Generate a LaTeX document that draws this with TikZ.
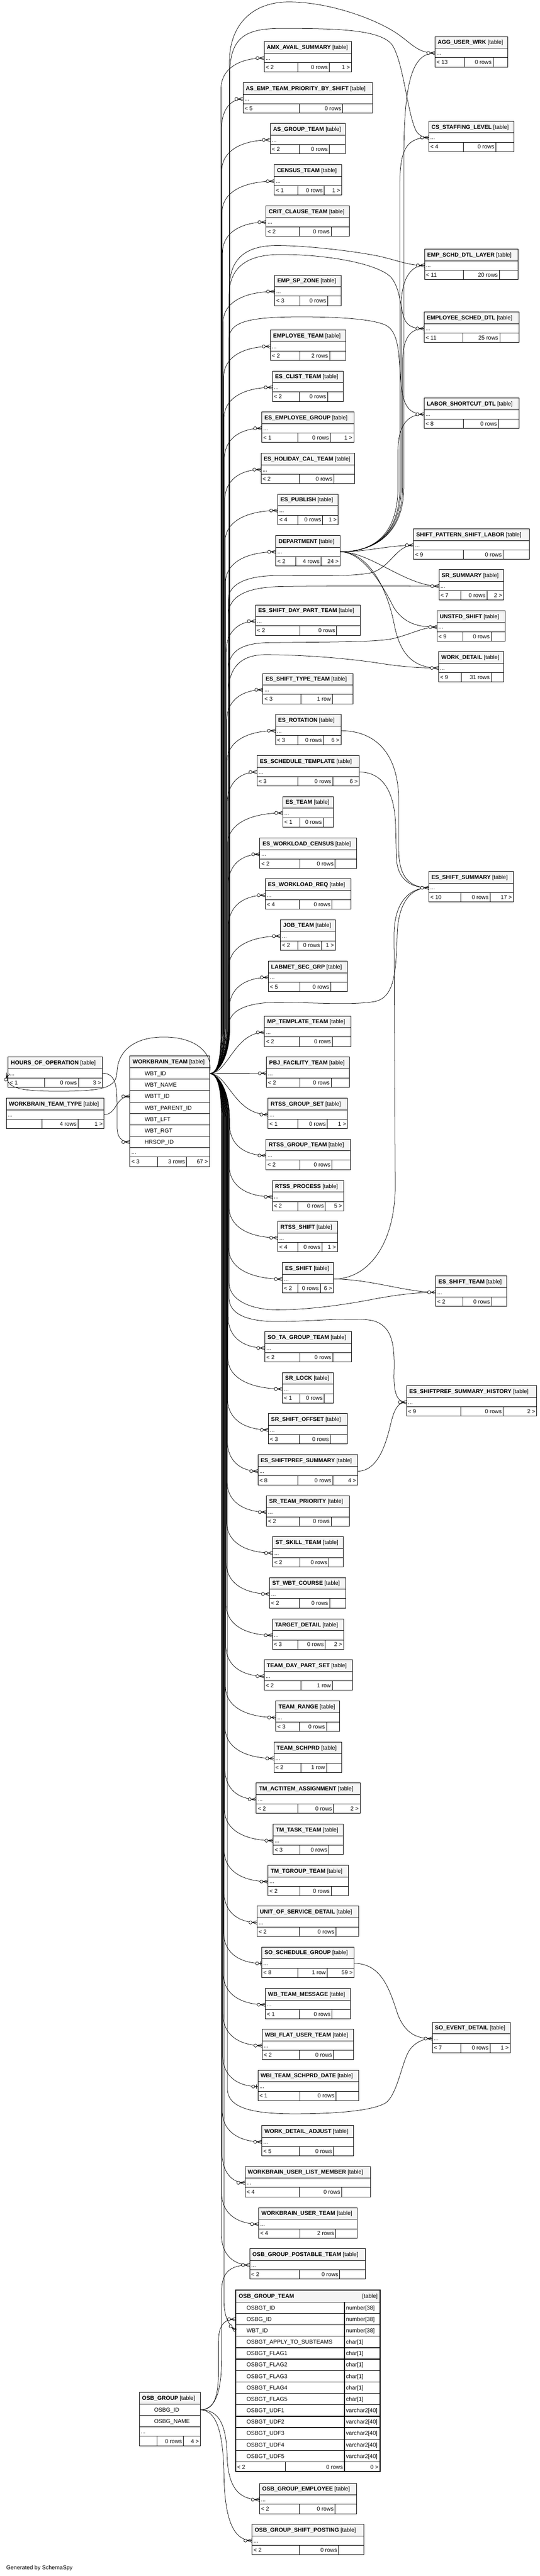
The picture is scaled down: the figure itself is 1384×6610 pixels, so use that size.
\documentclass[tikz,border=0pt]{standalone}
\usepackage{fontspec}
\setmainfont{Liberation Sans}
\usetikzlibrary{calc}
\tikzset{
  tline/.style={draw=black, line width=1.3pt},
  tbox/.style={draw=black, line width=1.3pt, inner sep=0pt, outer sep=0pt, rectangle},
  hdrfill/.style={fill=black!4},
  edge/.style={draw=black, line width=1pt},
  txt/.style={inner sep=0pt, outer sep=0pt, font=\fontsize{14.5}{17}\selectfont},
}
\newcommand\tbfoot[9]{%
  \node[txt, anchor=base west] (#1-f1) at (#2+4,#4+71) {#7};
  \node[txt, anchor=base east] (#1-f2) at (#6-4,#4+71) {#8};
  \node[txt, anchor=base east] (#1-f3) at (#3-4,#4+71) {#9};
}
% #1 id #2 name #3 left #4 right #5 top #6 d1 #7 d2 #8 {f1}{f2}{f3}
\newcommand\tb[8]{%
  \fill[hdrfill] (#3,#5) rectangle (#4,#5+30);
  \node[tbox, minimum width={(#4-#3)*1pt}, minimum height=78pt, anchor=north west] (#1) at (#3,#5) {};
  \draw[tline] (#3,#5+30) -- (#4,#5+30) (#3,#5+54) -- (#4,#5+54) (#6,#5+54) -- (#6,#5+78) (#7,#5+54) -- (#7,#5+78);
  \node[txt, anchor=base west] (#1-h) at (#3+7,#5+19.5) {\textbf{\detokenize{#2}}\hspace{4pt}[table]};
  \node[txt, anchor=base west] (#1-d) at (#3+4,#5+47) {...};
  \tbfoot{#1}{#3}{#4}{#5}{#6}{#7}#8
  \coordinate (#1-in) at (#3,#5+42);
  \coordinate (#1-out) at (#4,#5+42);
}
\newcommand\crow[2][0]{%
  \begin{scope}[shift={(#2)}, rotate=#1]
    \draw[edge] (-13,0) -- (0,0) (-13,0) -- (0,4.5) (-13,0) -- (0,-4.5);
    \draw[edge, fill=white] (-17,0) circle[radius=4];
  \end{scope}}
\newcommand\teeodot[1]{%
  \begin{scope}[shift={(#1)}]
    \draw[edge] (-8,0) -- (0,0) (-4,-5.5) -- (-4,5.5);
    \draw[edge, fill=white] (-12,0) circle[radius=4];
  \end{scope}}
\newcommand\wup[2]{%
  \pgfmathsetmacro\trunkx{590-(2755-#2)/2650*24}%
  \draw[edge] (wbt-out) .. controls (560,2755) and (\trunkx,2710) .. (\trunkx,2640) -- (\trunkx,#2+80) .. controls (\trunkx,#2+25) and ($(\trunkx,#2)!0.45!(#1-in)$) .. (#1-in);}
\newcommand\wdn[2]{%
  \pgfmathsetmacro\trunkx{590-(#2-2755)/3250*24}%
  \draw[edge] (wbt-out) .. controls (560,2755) and (\trunkx,2800) .. (\trunkx,2870) -- (\trunkx,#2-80) .. controls (\trunkx,#2-25) and ($(\trunkx,#2)!0.45!(#1-in)$) .. (#1-in);}
\newcommand\wbtrow[2]{\node[txt, anchor=base west] (wbt-c#1) at (371,{2740+29.3*(#1-0.5)+5}) {\detokenize{#2}};}
\newcommand\ogtrow[3]{%
  \node[txt, anchor=base west] (ogt-c#1) at (632,{5907+29.3*(#1-0.5)+5}) {\detokenize{#2}};
  \node[txt, anchor=base west] (ogt-t#1) at (887,{5907+29.3*(#1-0.5)+5}) {#3};}
\begin{document}
\begin{tikzpicture}[x=1pt,y=-1pt]
\fill[white] (0,0) rectangle (1384,6610);
\useasboundingbox (0,0) rectangle (1384,6610);

% ---------------- main column tables
\tb{amx}{AMX_AVAIL_SUMMARY}{677}{901}{107}{763}{844}{{< 2}{0 rows}{1 >}}
\tb{asemp}{AS_EMP_TEAM_PRIORITY_BY_SHIFT}{623}{955}{212}{767}{879}{{< 5}{0 rows}{}}
\tb{asgrp}{AS_GROUP_TEAM}{693}{885}{317}{767}{844}{{< 2}{0 rows}{}}
\tb{census}{CENSUS_TEAM}{703}{876}{423}{763}{831}{{< 1}{0 rows}{1 >}}
\tb{crit}{CRIT_CLAUSE_TEAM}{682}{896}{528}{767}{849}{{< 2}{0 rows}{}}
\tb{spzone}{EMP_SP_ZONE}{704}{875}{706}{769}{840}{{< 3}{0 rows}{}}
\tb{empteam}{EMPLOYEE_TEAM}{693}{886}{847}{769}{845}{{< 2}{2 rows}{}}
\tb{clist}{ES_CLIST_TEAM}{698}{880}{952}{767}{840}{{< 2}{0 rows}{}}
\tb{esempgrp}{ES_EMPLOYEE_GROUP}{671}{907}{1057}{763}{847}{{< 1}{0 rows}{1 >}}
\tb{holiday}{ES_HOLIDAY_CAL_TEAM}{669}{909}{1163}{767}{856}{{< 2}{0 rows}{}}
\tb{publish}{ES_PUBLISH}{712}{867}{1268}{763}{827}{{< 4}{0 rows}{1 >}}
\tb{dept}{DEPARTMENT}{707}{872}{1374}{758}{823}{{< 2}{4 rows}{24 >}}
\tb{daypart}{ES_SHIFT_DAY_PART_TEAM}{655}{924}{1552}{769}{863}{{< 2}{0 rows}{}}
\tb{shtype}{ES_SHIFT_TYPE_TEAM}{674}{905}{1728}{772}{852}{{< 3}{1 row}{}}
\tb{esrot}{ES_ROTATION}{706}{874}{1833}{763}{829}{{< 3}{0 rows}{6 >}}
\tb{estpl}{ES_SCHEDULE_TEMPLATE}{659}{921}{1939}{763}{853}{{< 3}{0 rows}{6 >}}
\tb{esteam}{ES_TEAM}{725}{854}{2044}{769}{829}{{< 1}{0 rows}{}}
\tb{wlcensus}{ES_WORKLOAD_CENSUS}{666}{914}{2150}{769}{859}{{< 2}{0 rows}{}}
\tb{wlreq}{ES_WORKLOAD_REQ}{680}{899}{2255}{767}{851}{{< 4}{0 rows}{}}
\tb{jobteam}{JOB_TEAM}{719}{860}{2360}{763}{824}{{< 2}{0 rows}{1 >}}
\tb{labmet}{LABMET_SEC_GRP}{688}{891}{2466}{769}{848}{{< 5}{0 rows}{}}
\tb{mptpl}{MP_TEMPLATE_TEAM}{678}{900}{2607}{767}{852}{{< 2}{0 rows}{}}
\tb{pbj}{PBJ_FACILITY_TEAM}{683}{896}{2712}{769}{849}{{< 2}{0 rows}{}}
\tb{rgset}{RTSS_GROUP_SET}{687}{891}{2818}{763}{839}{{< 1}{0 rows}{1 >}}
\tb{rgteam}{RTSS_GROUP_TEAM}{682}{898}{2923}{769}{851}{{< 2}{0 rows}{}}
\tb{rproc}{RTSS_PROCESS}{698}{881}{3029}{763}{834}{{< 2}{0 rows}{5 >}}
\tb{rshift}{RTSS_SHIFT}{712}{865}{3134}{763}{825}{{< 4}{0 rows}{1 >}}
\tb{esshift}{ES_SHIFT}{724}{855}{3240}{763}{821}{{< 2}{0 rows}{6 >}}
\tb{sota}{SO_TA_GROUP_TEAM}{679}{901}{3417}{769}{853}{{< 2}{0 rows}{}}
\tb{srlock}{SR_LOCK}{724}{855}{3522}{769}{831}{{< 1}{0 rows}{}}
\tb{sroff}{SR_SHIFT_OFFSET}{688}{890}{3627}{767}{847}{{< 3}{0 rows}{}}
\tb{espref}{ES_SHIFTPREF_SUMMARY}{661}{917}{3733}{763}{853}{{< 8}{0 rows}{4 >}}
\tb{srprio}{SR_TEAM_PRIORITY}{683}{895}{3838}{767}{849}{{< 2}{0 rows}{}}
\tb{stskill}{ST_SKILL_TEAM}{699}{880}{3943}{769}{843}{{< 2}{0 rows}{}}
\tb{stwbt}{ST_WBT_COURSE}{691}{886}{4048}{767}{845}{{< 2}{0 rows}{}}
\tb{target}{TARGET_DETAIL}{698}{881}{4154}{763}{834}{{< 3}{0 rows}{2 >}}
\tb{tdps}{TEAM_DAY_PART_SET}{677}{903}{4259}{772}{852}{{< 2}{1 row}{}}
\tb{trange}{TEAM_RANGE}{707}{870}{4365}{767}{837}{{< 3}{0 rows}{}}
\tb{tschprd}{TEAM_SCHPRD}{702}{876}{4470}{772}{837}{{< 2}{1 row}{}}
\tb{tmact}{TM_ACTITEM_ASSIGNMENT}{657}{923}{4575}{763}{855}{{< 2}{0 rows}{2 >}}
\tb{tmtask}{TM_TASK_TEAM}{700}{880}{4681}{769}{843}{{< 3}{0 rows}{}}
\tb{tmtgrp}{TM_TGROUP_TEAM}{687}{893}{4786}{769}{849}{{< 2}{0 rows}{}}
\tb{unitsvc}{UNIT_OF_SERVICE_DETAIL}{659}{920}{4891}{767}{861}{{< 2}{0 rows}{}}
\tb{ssg}{SO_SCHEDULE_GROUP}{671}{908}{4996}{763}{839}{{< 8}{1 row}{59 >}}
\tb{wbmsg}{WB_TEAM_MESSAGE}{680}{898}{5102}{767}{851}{{< 1}{0 rows}{}}
\tb{wbiflat}{WBI_FLAT_USER_TEAM}{672}{906}{5207}{767}{855}{{< 2}{0 rows}{}}
\tb{wbisch}{WBI_TEAM_SCHPRD_DATE}{661}{919}{5312}{769}{861}{{< 1}{0 rows}{}}
\tb{wdadj}{WORK_DETAIL_ADJUST}{671}{906}{5454}{767}{855}{{< 5}{0 rows}{}}
\tb{wbulm}{WORKBRAIN_USER_LIST_MEMBER}{628}{950}{5559}{767}{876}{{< 4}{0 rows}{}}
\tb{wbut}{WORKBRAIN_USER_TEAM}{663}{915}{5665}{769}{860}{{< 4}{2 rows}{}}
\tb{ogpt}{OSB_GROUP_POSTABLE_TEAM}{640}{937}{5770}{767}{871}{{< 2}{0 rows}{}}
\tb{oge}{OSB_GROUP_EMPLOYEE}{665}{914}{6372}{767}{859}{{< 2}{0 rows}{}}
\tb{ogsp}{OSB_GROUP_SHIFT_POSTING}{646}{932}{6477}{767}{868}{{< 2}{0 rows}{}}

% ---------------- right column tables
\tb{agg}{AGG_USER_WRK}{1115}{1301}{94}{1191}{1264}{{< 13}{0 rows}{}}
\tb{cs}{CS_STAFFING_LEVEL}{1099}{1317}{311}{1188}{1271}{{< 4}{0 rows}{}}
\tb{esdl}{EMP_SCHD_DTL_LAYER}{1088}{1328}{639}{1188}{1280}{{< 11}{20 rows}{}}
\tb{esd}{EMPLOYEE_SCHED_DTL}{1087}{1330}{801}{1187}{1281}{{< 11}{25 rows}{}}
\tb{lsd}{LABOR_SHORTCUT_DTL}{1087}{1331}{1021}{1188}{1278}{{< 8}{0 rows}{}}
\tb{spsl}{SHIFT_PATTERN_SHIFT_LABOR}{1060}{1357}{1357}{1188}{1290}{{< 9}{0 rows}{}}
\tb{srs}{SR_SUMMARY}{1125}{1291}{1462}{1181}{1248}{{< 7}{0 rows}{2 >}}
\tb{uns}{UNSTFD_SHIFT}{1120}{1295}{1567}{1187}{1259}{{< 9}{0 rows}{}}
\tb{wd}{WORK_DETAIL}{1124}{1291}{1672}{1182}{1259}{{< 9}{31 rows}{}}
\tb{ess}{ES_SHIFT_SUMMARY}{1099}{1316}{2236}{1181}{1256}{{< 10}{0 rows}{17 >}}
\tb{est}{ES_SHIFT_TEAM}{1117}{1299}{3274}{1187}{1260}{{< 2}{0 rows}{}}
\tb{essh}{ES_SHIFTPREF_SUMMARY_HISTORY}{1042}{1376}{3556}{1181}{1290}{{< 9}{0 rows}{2 >}}
\tb{soed}{SO_EVENT_DETAIL}{1108}{1308}{5189}{1181}{1256}{{< 7}{0 rows}{1 >}}

% ---------------- left tables
\tb{hoo}{HOURS_OF_OPERATION}{21}{263}{2712}{115}{201}{{< 1}{0 rows}{3 >}}
\tb{wbtt}{WORKBRAIN_TEAM_TYPE}{16}{267}{2818}{108}{200}{{}{4 rows}{1 >}}

% WORKBRAIN_TEAM
\fill[hdrfill] (333,2710) rectangle (537,2740);
\node[tbox, minimum width=204pt, minimum height=283pt, anchor=north west] (wbt) at (333,2710) {};
\draw[tline] (333,2740) -- (537,2740);
\foreach \i in {1,...,7} {\draw[tline] (333,{2740+29.3*\i}) -- (537,{2740+29.3*\i});}
\draw[tline] (333,2969) -- (537,2969) (404,2969) -- (404,2993) (478,2969) -- (478,2993);
\node[txt, anchor=base west] (wbt-h) at (340,2729.5) {\textbf{WORKBRAIN\_TEAM}\hspace{4pt}[table]};
\wbtrow{1}{WBT_ID}
\wbtrow{2}{WBT_NAME}
\wbtrow{3}{WBTT_ID}
\wbtrow{4}{WBT_PARENT_ID}
\wbtrow{5}{WBT_LFT}
\wbtrow{6}{WBT_RGT}
\wbtrow{7}{HRSOP_ID}
\node[txt, anchor=base west] (wbt-d) at (337,2962) {...};
\node[txt, anchor=base west] (wbt-f1) at (337,2986) {< 3};
\node[txt, anchor=base east] (wbt-f2) at (474,2986) {3 rows};
\node[txt, anchor=base east] (wbt-f3) at (533,2986) {67 >};
\coordinate (wbt-out) at (537,2754.6);
\coordinate (wbt-wbtt) at (333,2813.3);
\coordinate (wbt-hrsop) at (333,2930.4);

% OSB_GROUP
\fill[hdrfill] (357,6139) rectangle (514,6169);
\node[tbox, minimum width=157pt, minimum height=137pt, anchor=north west] (og) at (357,6139) {};
\draw[tline] (357,6169) -- (514,6169) (357,6198.3) -- (514,6198.3) (357,6227.6) -- (514,6227.6) (357,6251.6) -- (514,6251.6) (403,6251.6) -- (403,6276) (470,6251.6) -- (470,6276);
\node[txt, anchor=base west] (og-h) at (364,6158.5) {\textbf{OSB\_GROUP}\hspace{4pt}[table]};
\node[txt, anchor=base west] (og-c1) at (395,6188.6) {OSBG\_ID};
\node[txt, anchor=base west] (og-c2) at (395,6217.9) {OSBG\_NAME};
\node[txt, anchor=base west] (og-d) at (361,6244.6) {...};
\node[txt, anchor=base east] (og-f2) at (466,6269) {0 rows};
\node[txt, anchor=base east] (og-f3) at (510,6269) {4 >};
\coordinate (og-out) at (514,6183.6);

% OSB_GROUP_TEAM
\fill[hdrfill] (604,5876) rectangle (974,5907);
\node[tbox, line width=2.5pt, minimum width=370pt, minimum height=466pt, anchor=north west] (ogt) at (604,5876) {};
\draw[line width=2pt] (604,5907) -- (974,5907);
\foreach \i in {1,...,14} {\draw[line width=1.7pt] (604,{5907+29.3*\i}) -- (974,{5907+29.3*\i});}
\draw[line width=1.7pt] (883,5907) -- (883,6342) (732,6317.2) -- (732,6342);
\node[txt, anchor=base west] (ogt-h) at (612,5897) {\textbf{OSB\_GROUP\_TEAM}};
\node[txt, anchor=base east] (ogt-h2) at (968,5897) {[table]};
\ogtrow{1}{OSBGT_ID}{number[38]}
\ogtrow{2}{OSBG_ID}{number[38]}
\ogtrow{3}{WBT_ID}{number[38]}
\ogtrow{4}{OSBGT_APPLY_TO_SUBTEAMS}{char[1]}
\ogtrow{5}{OSBGT_FLAG1}{char[1]}
\ogtrow{6}{OSBGT_FLAG2}{char[1]}
\ogtrow{7}{OSBGT_FLAG3}{char[1]}
\ogtrow{8}{OSBGT_FLAG4}{char[1]}
\ogtrow{9}{OSBGT_FLAG5}{char[1]}
\ogtrow{10}{OSBGT_UDF1}{varchar2[40]}
\ogtrow{11}{OSBGT_UDF2}{varchar2[40]}
\ogtrow{12}{OSBGT_UDF3}{varchar2[40]}
\ogtrow{13}{OSBGT_UDF4}{varchar2[40]}
\ogtrow{14}{OSBGT_UDF5}{varchar2[40]}
\node[txt, anchor=base west] (ogt-f1) at (608,6335) {< 2};
\node[txt, anchor=base east] (ogt-f2) at (879,6335) {0 rows};
\node[txt, anchor=base east] (ogt-f3) at (970,6335) {0 >};
\coordinate (ogt-osbg) at (604,5951);
\coordinate (ogt-wbt) at (604,5980.3);

\node[txt, anchor=base west] (credit) at (16,6593) {Generated by SchemaSpy};

% ---------------- connectors from WORKBRAIN_TEAM.WBT_ID (trunk)
\wup{amx}{149} \wup{asemp}{254} \wup{asgrp}{359} \wup{census}{465} \wup{crit}{570}
\wup{spzone}{748} \wup{empteam}{889} \wup{clist}{994} \wup{esempgrp}{1099} \wup{holiday}{1205}
\wup{publish}{1310} \wup{dept}{1416} \wup{daypart}{1594} \wup{shtype}{1770} \wup{esrot}{1875}
\wup{estpl}{1981} \wup{esteam}{2086} \wup{wlcensus}{2192} \wup{wlreq}{2297} \wup{jobteam}{2402}
\wup{labmet}{2508}
\draw[edge] (wbt-out) .. controls (585,2755) and (600,2649) .. (mptpl-in);
\draw[edge] (wbt-out) -- (pbj-in);
\draw[edge] (wbt-out) .. controls (585,2755) and (600,2860) .. (rgset-in);
\wdn{rgteam}{2965} \wdn{rproc}{3071} \wdn{rshift}{3176} \wdn{esshift}{3282} \wdn{sota}{3459}
\wdn{srlock}{3564} \wdn{sroff}{3669} \wdn{espref}{3775} \wdn{srprio}{3880} \wdn{stskill}{3985}
\wdn{stwbt}{4090} \wdn{target}{4196} \wdn{tdps}{4301} \wdn{trange}{4407} \wdn{tschprd}{4512}
\wdn{tmact}{4617} \wdn{tmtask}{4723} \wdn{tmtgrp}{4828} \wdn{unitsvc}{4933} \wdn{ssg}{5038}
\wdn{wbmsg}{5144} \wdn{wbiflat}{5249} \wdn{wbisch}{5354} \wdn{wdadj}{5496} \wdn{wbulm}{5601}
\wdn{wbut}{5707} \wdn{ogpt}{5812}
\draw[edge] (wbt-out) .. controls (560,2755) and (574,2800) .. (574,2870) -- (574,5900) .. controls (574,5950) and (588,5966) .. (ogt-wbt);

% trunk to right column
\draw[edge] (wbt-out) .. controls (560,2755) and (588,2710) .. (588,2640) -- (588,160) .. controls (588,60) and (650,5) .. (740,5) .. controls (840,5) and (950,45) .. (1005,78) .. controls (1055,108) and (1065,136) .. (agg-in);
\draw[edge] (wbt-out) .. controls (560,2755) and (589,2710) .. (589,2640) -- (589,190) .. controls (589,95) and (630,73) .. (720,73) .. controls (860,73) and (975,75) .. (1005,115) .. controls (1035,160) and (1045,300) .. (1068,338) .. controls (1076,350) and (1088,353) .. (cs-in);
\draw[edge] (wbt-out) .. controls (560,2755) and (588,2710) .. (588,2640) -- (588,740) .. controls (588,655) and (640,630) .. (710,630) .. controls (800,630) and (950,650) .. (990,662) .. controls (1030,672) and (1050,681) .. (esdl-in);
\draw[edge] (wbt-out) .. controls (560,2755) and (587,2710) .. (587,2640) -- (587,760) .. controls (587,680) and (640,653) .. (720,653) .. controls (850,653) and (980,680) .. (1005,715) .. controls (1030,750) and (1025,800) .. (1040,825) .. controls (1050,840) and (1065,843) .. (esd-in);
\draw[edge] (wbt-out) .. controls (560,2755) and (587,2710) .. (587,2640) -- (587,870) .. controls (587,825) and (640,813) .. (772,813) .. controls (880,813) and (960,820) .. (990,835) .. controls (1020,852) and (1022,900) .. (1026,960) .. controls (1030,1030) and (1040,1063) .. (lsd-in);
\draw[edge] (wbt-out) .. controls (560,2755) and (585,2710) .. (585,2640) -- (585,1540) .. controls (585,1495) and (640,1477) .. (710,1477) .. controls (800,1477) and (900,1480) .. (950,1470) .. controls (1000,1458) and (1015,1399) .. (spsl-in);
\draw[edge] (wbt-out) .. controls (560,2755) and (585,2710) .. (585,2640) -- (585,1580) .. controls (585,1525) and (640,1507) .. (720,1505) .. controls (850,1503) and (1000,1504) .. (srs-in);
\draw[edge] (wbt-out) .. controls (560,2755) and (585,2710) .. (585,2640) -- (585,1720) .. controls (585,1670) and (620,1650) .. (690,1649) .. controls (850,1647) and (970,1648) .. (1010,1638) .. controls (1060,1625) and (1085,1609) .. (uns-in);
\draw[edge] (wbt-out) .. controls (560,2755) and (585,2710) .. (585,2640) -- (585,1780) .. controls (585,1710) and (620,1680) .. (680,1680) .. controls (780,1680) and (900,1690) .. (980,1703) .. controls (1040,1712) and (1080,1714) .. (wd-in);
\draw[edge] (wbt-out) .. controls (560,2755) and (587,2710) .. (587,2640) -- (587,2630) .. controls (587,2590) and (640,2572) .. (710,2572) .. controls (800,2572) and (900,2580) .. (960,2570) .. controls (1010,2560) and (1015,2500) .. (1018,2400) .. controls (1020,2320) and (1050,2278) .. (ess-in);
\draw[edge] (wbt-out) .. controls (560,2755) and (587,2800) .. (587,2870) -- (587,3290) .. controls (587,3340) and (650,3361) .. (710,3361) .. controls (800,3361) and (900,3345) .. (960,3333) .. controls (1020,3322) and (1070,3316) .. (est-in);
\draw[edge] (wbt-out) .. controls (560,2755) and (587,2800) .. (587,2870) -- (587,3330) .. controls (587,3375) and (640,3391) .. (710,3391) .. controls (800,3391) and (920,3378) .. (960,3390) .. controls (1005,3405) and (1012,3450) .. (1010,3520) .. controls (1008,3580) and (1020,3598) .. (essh-in);
\draw[edge] (wbt-out) .. controls (560,2755) and (583,2800) .. (583,2870) -- (583,5360) .. controls (583,5410) and (650,5424) .. (754,5424) .. controls (870,5424) and (960,5415) .. (990,5395) .. controls (1020,5370) and (1030,5290) .. (1050,5260) .. controls (1065,5240) and (1085,5231) .. (soed-in);

% DEPARTMENT children
\draw[edge] (dept-out) .. controls (960,1416) and (1035,1370) .. (1035,1250) -- (1035,420) .. controls (1035,230) and (1050,136) .. (agg-in);
\draw[edge] (dept-out) .. controls (960,1416) and (1025,1370) .. (1025,1250) -- (1025,470) .. controls (1025,380) and (1045,353) .. (cs-in);
\draw[edge] (dept-out) .. controls (960,1416) and (1028,1370) .. (1028,1250) -- (1028,790) .. controls (1028,720) and (1050,681) .. (esdl-in);
\draw[edge] (dept-out) .. controls (960,1416) and (1032,1370) .. (1032,1250) -- (1032,930) .. controls (1032,870) and (1050,843) .. (esd-in);
\draw[edge] (dept-out) .. controls (960,1416) and (1020,1370) .. (1020,1250) -- (1020,1160) .. controls (1020,1090) and (1045,1063) .. (lsd-in);
\draw[edge] (dept-out) .. controls (940,1416) and (990,1400) .. (spsl-in);
\draw[edge] (dept-out) .. controls (950,1416) and (1040,1504) .. (srs-in);
\draw[edge] (dept-out) .. controls (930,1416) and (980,1500) .. (1010,1560) .. controls (1040,1605) and (1080,1609) .. (uns-in);
\draw[edge] (dept-out) .. controls (940,1416) and (990,1500) .. (1010,1600) .. controls (1025,1680) and (1060,1714) .. (wd-in);

% ES_SHIFT_SUMMARY parents
\draw[edge] (esrot-out) .. controls (960,1875) and (1020,1930) .. (1022,2050) -- (1022,2180) .. controls (1022,2250) and (1050,2278) .. (ess-in);
\draw[edge] (estpl-out) .. controls (980,1981) and (1012,2030) .. (1014,2120) -- (1016,2200) .. controls (1018,2255) and (1050,2278) .. (ess-in);
\draw[edge] (esshift-out) .. controls (940,3282) and (1010,3200) .. (1013,3050) -- (1010,2400) .. controls (1010,2320) and (1045,2278) .. (ess-in);
\draw[edge] (esshift-out) .. controls (950,3282) and (1040,3316) .. (est-in);
\draw[edge] (espref-out) .. controls (970,3775) and (990,3700) .. (1000,3660) .. controls (1010,3615) and (1020,3598) .. (essh-in);
\draw[edge] (ssg-out) .. controls (980,5038) and (1000,5110) .. (1020,5170) .. controls (1040,5220) and (1070,5231) .. (soed-in);

% left side
\draw[edge] (wbtt-out) .. controls (300,2860) and (295,2813) .. (wbt-wbtt);
\draw[edge] (hoo-out) .. controls (298,2754) and (300,2790) .. (300,2840) -- (300,2890) .. controls (300,2920) and (312,2930) .. (wbt-hrsop);
\draw[edge] (wbt-out) .. controls (548,2700) and (500,2661) .. (420,2661) .. controls (340,2661) and (302,2700) .. (300,2750) .. controls (298,2790) and (270,2800) .. (150,2800) .. controls (50,2800) and (8,2792) .. (hoo-in);

% OSB_GROUP children
\draw[edge] (og-out) .. controls (550,6183) and (560,6150) .. (560,6080) -- (560,6010) .. controls (560,5965) and (575,5951) .. (ogt-osbg);
\draw[edge] (og-out) .. controls (555,6183) and (568,6130) .. (568,6050) -- (568,5880) .. controls (568,5830) and (590,5812) .. (ogpt-in);
\draw[edge] (og-out) .. controls (560,6183) and (580,6220) .. (582,6300) .. controls (584,6380) and (610,6414) .. (oge-in);
\draw[edge] (og-out) .. controls (555,6185) and (572,6240) .. (574,6350) .. controls (576,6470) and (600,6519) .. (ogsp-in);

% ---------------- end markers
\foreach \c in {amx,asemp,asgrp,census,crit,spzone,empteam,clist,esempgrp,holiday,publish,dept,daypart,shtype,esrot,estpl,esteam,wlcensus,wlreq,jobteam,labmet,mptpl,pbj,rgset,rgteam,rproc,rshift,esshift,sota,srlock,sroff,espref,srprio,stskill,stwbt,target,tdps,trange,tschprd,tmact,tmtask,tmtgrp,unitsvc,wbmsg,wbiflat,wdadj,wbulm,wbut,ogpt,oge,ogsp,agg,cs,esdl,esd,lsd,spsl,srs,uns,wd,ess,est,essh,soed} {\crow{\c-in}}
\crow{wbt-wbtt}
\crow{wbt-hrsop}
\crow{ogt-osbg}
\crow[-41]{ogt-wbt}
\crow[70]{hoo-in}
\teeodot{ssg-in}
\teeodot{wbisch-in}
\end{tikzpicture}
\end{document}
